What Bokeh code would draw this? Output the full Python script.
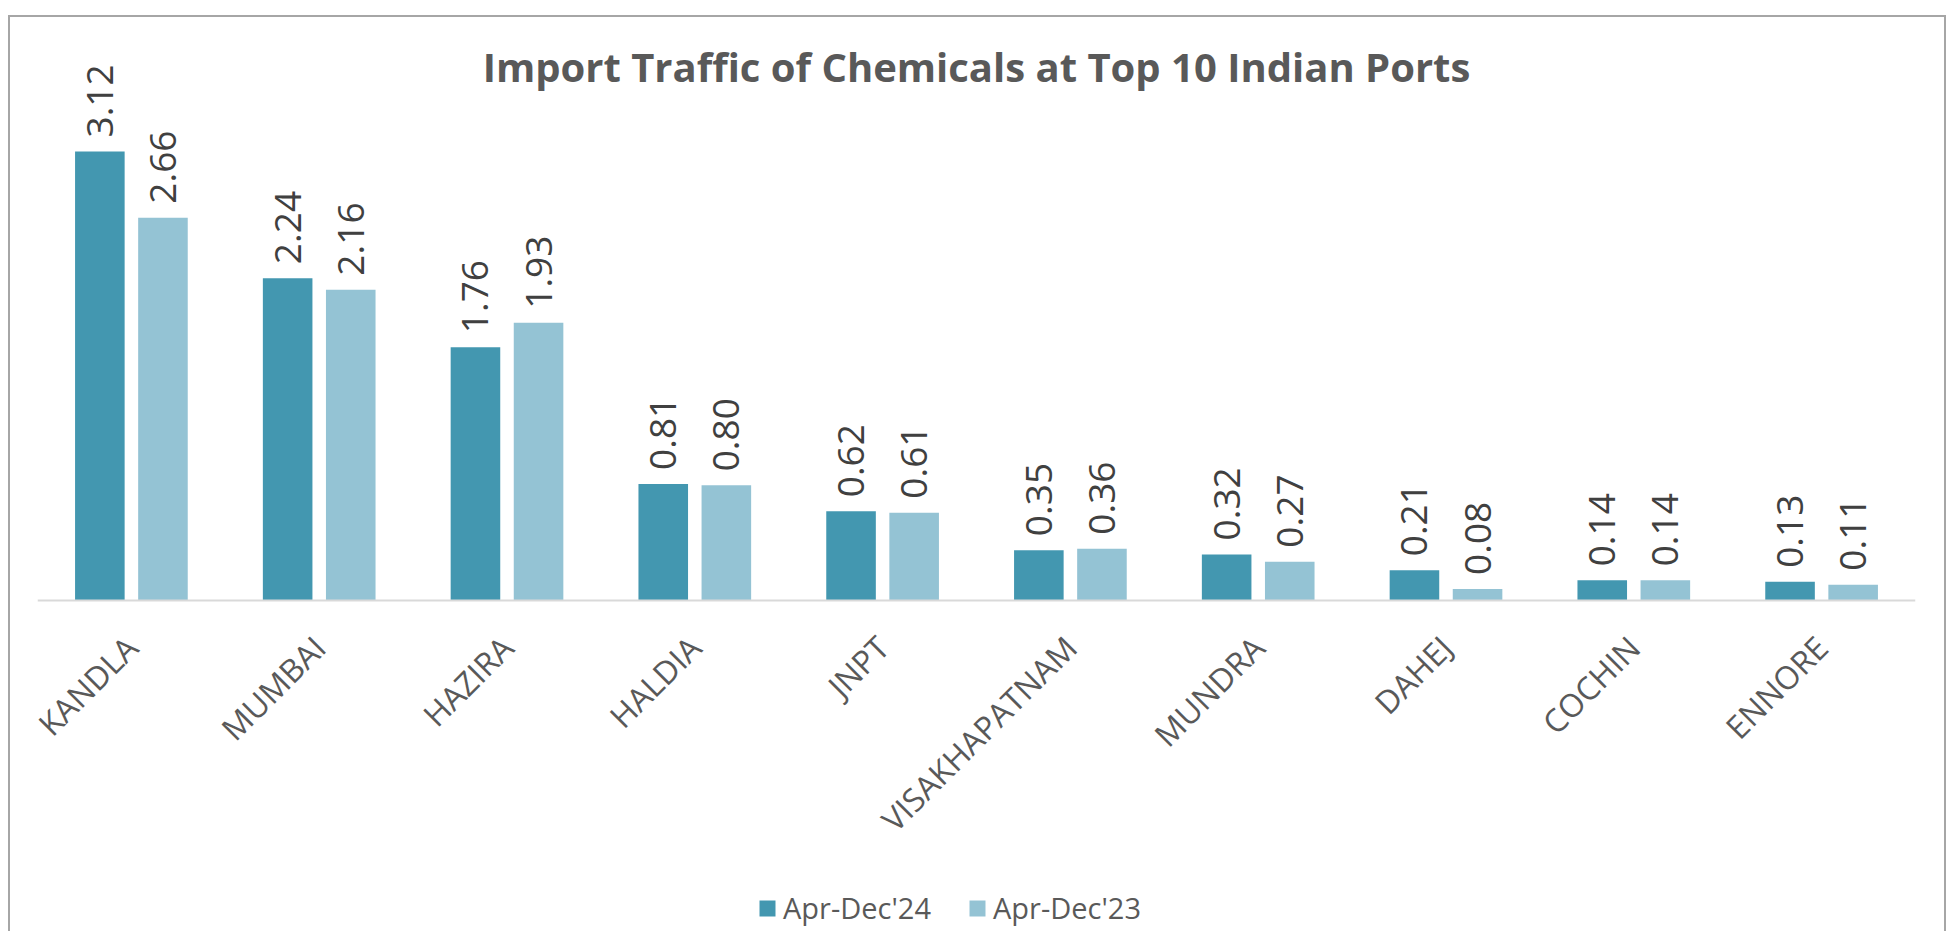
import math
from bokeh.plotting import figure
from bokeh.models import ColumnDataSource, FactorRange, Range1d, Legend, LegendItem, Label
from bokeh.transform import dodge
from bokeh.core.properties import value
from bokeh.embed import file_html
from bokeh.resources import INLINE

# ---- data ----
ports = ["KANDLA", "MUMBAI", "HAZIRA", "HALDIA", "JNPT",
         "VISAKHAPATNAM", "MUNDRA", "DAHEJ", "COCHIN", "ENNORE"]
apr_dec_24 = [3.12, 2.24, 1.76, 0.81, 0.62, 0.35, 0.32, 0.21, 0.14, 0.13]
apr_dec_23 = [2.66, 2.16, 1.93, 0.80, 0.61, 0.36, 0.27, 0.08, 0.14, 0.11]
series_names = ["Apr-Dec'24", "Apr-Dec'23"]
title_text = "Import Traffic of Chemicals at Top 10 Indian Ports"

DARK = "#4397B0"
LIGHT = "#94C3D4"
FONT = "Open Sans"

src = ColumnDataSource(dict(
    port=ports, v24=apr_dec_24, v23=apr_dec_23,
    l24=[f"{v:.2f}" for v in apr_dec_24],
    l23=[f"{v:.2f}" for v in apr_dec_23],
))

W, H = 1950, 931
BASE_Y = 600            # screen row of the zero line
PX_PER_UNIT = 143.91
Y_END = BASE_Y / PX_PER_UNIT
Y_START = -(H - BASE_Y) / PX_PER_UNIT

p = figure(width=W, height=H,
           x_range=FactorRange(factors=ports, range_padding=0),
           y_range=Range1d(Y_START, Y_END),
           output_backend="svg", toolbar_location=None,
           min_border_left=37, min_border_right=W - 1915,
           min_border_top=0, min_border_bottom=0,
           y_axis_location=None)

p.background_fill_alpha = 0
p.border_fill_alpha = 0
p.outline_line_color = None
p.xgrid.visible = False
p.ygrid.visible = False
p.styles = {
    "background-color": "white",
    "box-shadow": ("inset 8px 0 0 white, inset 0 15px 0 white, inset -4px 0 0 white, "
                   "inset 10px 0 0 #A6A6A6, inset 0 17px 0 #A6A6A6, inset -6px 0 0 #A6A6A6"),
}

OFF = 0.168
BW = 0.264

r24 = p.vbar(x=dodge("port", -OFF, range=p.x_range), top="v24", width=BW,
             source=src, fill_color=DARK, line_color=None)
r23 = p.vbar(x=dodge("port", OFF, range=p.x_range), top="v23", width=BW,
             source=src, fill_color=LIGHT, line_color=None)

for col, lab, off in (("v24", "l24", -OFF), ("v23", "l23", OFF)):
    p.text(x=dodge("port", off, range=p.x_range), y=col, text=lab, source=src,
           angle=math.pi / 2, text_align="left", text_baseline="middle",
           y_offset=-14, text_font=value(FONT), text_font_size="37px",
           text_color="#404040")

ax = p.xaxis[0]
ax.fixed_location = 0
ax.axis_line_color = "#D9D9D9"
ax.axis_line_width = 2
ax.major_tick_line_color = None
ax.minor_tick_line_color = None
ax.major_tick_out = 0
ax.major_tick_in = 0
ax.major_label_orientation = math.pi / 4
ax.major_label_standoff = 41
ax.major_label_text_font = FONT
ax.major_label_text_font_size = "32px"
ax.major_label_text_color = "#595959"

title = Label(x=5, y=(BASE_Y - 66) / PX_PER_UNIT, x_units="data", y_units="data",
              text=title_text, text_align="center", text_baseline="alphabetic",
              text_font=FONT, text_font_style="bold", text_font_size="40px",
              text_color="#595959")
p.add_layout(title)

legend = Legend(items=[LegendItem(label=series_names[0], renderers=[r24]),
                       LegendItem(label=series_names[1], renderers=[r23])],
                location=(720, 4), orientation="horizontal",
                glyph_width=20, glyph_height=20, label_standoff=6, spacing=36,
                padding=0, margin=0, border_line_color=None,
                background_fill_alpha=0,
                label_text_font=FONT, label_text_font_size="29px",
                label_text_color="#595959")
p.add_layout(legend)

open("out.html", "w").write(file_html(p, INLINE))
